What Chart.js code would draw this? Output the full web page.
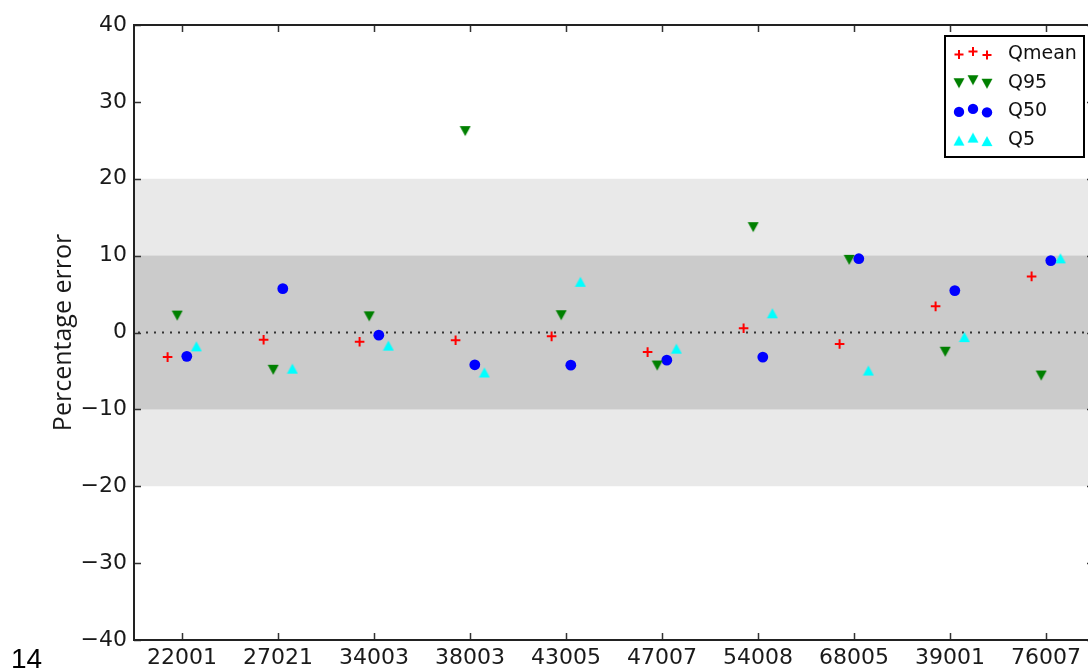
<!DOCTYPE html>
<html>
<head>
<meta charset="utf-8">
<script src="https://cdn.jsdelivr.net/npm/chart.js@4"></script>
<style>
html,body{margin:0;padding:0;overflow:hidden;background:#fff;}
#wrap{position:relative;width:1101px;height:671px;}
</style>
</head>
<body>
<div id="wrap"><canvas id="c" width="1101" height="671"></canvas></div>
<script>
// ---- data ----
const categories = ['22001','27021','34003','38003','43005','47007','54008','68005','39001','76007'];
const qmean = [-3.2, -0.95, -1.2, -1.0, -0.5, -2.55, 0.55, -1.5, 3.4, 7.3];
const q95   = [2.2, -4.85, 2.1, 26.2, 2.25, -4.3, 13.7, 9.45, -2.5, -5.6];
const q50   = [-3.1, 5.7, -0.35, -4.2, -4.25, -3.6, -3.2, 9.6, 5.45, 9.35];
const q5    = [-1.8, -4.7, -1.7, -5.2, 6.6, -2.1, 2.5, -4.95, -0.6, 9.65];
const yTicks = [-40, -30, -20, -10, 0, 10, 20, 30, 40];
const seriesNames = ['Qmean', 'Q95', 'Q50', 'Q5'];
const offsets = [-0.15, -0.05, 0.05, 0.15];

// ---- marker images (matplotlib-like, bbox centred) ----
function triImg(color, down) {
  const c = document.createElement('canvas');
  c.width = 12; c.height = 12;
  const g = c.getContext('2d');
  g.fillStyle = color;
  g.beginPath();
  if (down) { g.moveTo(0.5, 1); g.lineTo(11.5, 1); g.lineTo(6, 11); }
  else { g.moveTo(6, 1); g.lineTo(11.5, 11); g.lineTo(0.5, 11); }
  g.closePath(); g.fill();
  return c;
}
const triDown = triImg('#008000', true);
const triUp = triImg('#00ffff', false);

function pts(arr, k) { return arr.map((v, i) => ({x: i + offsets[k], y: v})); }

const bandsPlugin = {
  id: 'bands',
  beforeDatasetsDraw(chart) {
    const {ctx, chartArea: a, scales: {y}} = chart;
    ctx.save();
    ctx.fillStyle = '#e9e9e9';
    ctx.fillRect(a.left, y.getPixelForValue(20), a.right - a.left, y.getPixelForValue(-20) - y.getPixelForValue(20));
    ctx.fillStyle = '#cbcbcb';
    ctx.fillRect(a.left, y.getPixelForValue(10), a.right - a.left, y.getPixelForValue(-10) - y.getPixelForValue(10));
    const y0 = y.getPixelForValue(0);
    ctx.strokeStyle = '#333';
    ctx.lineWidth = 2;
    ctx.setLineDash([2, 6]);
    ctx.beginPath(); ctx.moveTo(a.left + 4, y0); ctx.lineTo(a.right, y0); ctx.stroke();
    ctx.restore();
  },
  afterDatasetsDraw(chart) {
    const {ctx, chartArea: a, scales: {x, y}} = chart;
    ctx.save();
    // ticks (inward)
    ctx.strokeStyle = '#333';
    ctx.lineWidth = 1.5;
    ctx.beginPath();
    yTicks.forEach(v => {
      const py = Math.round(y.getPixelForValue(v)) + 0.5;
      ctx.moveTo(a.left, py); ctx.lineTo(a.left + 7, py);
      ctx.moveTo(a.right, py); ctx.lineTo(a.right - 7, py);
    });
    categories.forEach((c, i) => {
      const px = Math.round(x.getPixelForValue(i)) + 0.5;
      ctx.moveTo(px, a.bottom); ctx.lineTo(px, a.bottom - 7);
      ctx.moveTo(px, a.top); ctx.lineTo(px, a.top + 7);
    });
    ctx.stroke();
    // frame
    ctx.strokeStyle = '#222';
    ctx.lineWidth = 2;
    ctx.strokeRect(a.left, a.top, a.right - a.left, a.bottom - a.top);
    // legend
    const L = a.right - 149, T = a.top + 11, W = 139, H = 121;
    ctx.fillStyle = '#fff';
    ctx.fillRect(L, T, W, H);
    ctx.strokeStyle = '#000';
    ctx.lineWidth = 2;
    ctx.strokeRect(L, T, W, H);
    const dy = [1.5, -1.5, 2];
    const mx = [14, 28, 42];
    seriesNames.forEach((name, k) => {
      const ry = T + 17 + k * 28.7;
      for (let j = 0; j < 3; j++) {
        const cx = L + mx[j], cy = ry + dy[j];
        if (k === 0) {
          ctx.strokeStyle = '#ff0000'; ctx.lineWidth = 2;
          ctx.beginPath(); ctx.moveTo(cx - 4.5, cy); ctx.lineTo(cx + 4.5, cy);
          ctx.moveTo(cx, cy - 4.5); ctx.lineTo(cx, cy + 4.5); ctx.stroke();
        } else if (k === 1) {
          ctx.drawImage(triDown, cx - 6, cy - 6);
        } else if (k === 2) {
          ctx.fillStyle = '#0000ff';
          ctx.beginPath(); ctx.arc(cx, cy, 5.2, 0, Math.PI * 2); ctx.fill();
        } else {
          ctx.drawImage(triUp, cx - 6, cy - 6);
        }
      }
      ctx.fillStyle = '#111';
      ctx.font = '19px "DejaVu Sans"';
      ctx.textBaseline = 'middle';
      ctx.textAlign = 'left';
      ctx.fillText(name, L + 63, ry + 1);
    });
    ctx.restore();
  },
  afterDraw(chart) {
    const ctx = chart.ctx;
    ctx.save();
    ctx.fillStyle = '#000';
    ctx.font = '28px "Liberation Sans"';
    ctx.textBaseline = 'alphabetic';
    ctx.textAlign = 'left';
    ctx.fillText('14', 11, 668);
    ctx.restore();
  }
};

new Chart(document.getElementById('c'), {
  type: 'scatter',
  data: {
    datasets: [
      {label: seriesNames[0], data: pts(qmean, 0), pointStyle: 'cross', pointRadius: 4.8, borderWidth: 2, borderColor: '#ff0000', backgroundColor: '#ff0000'},
      {label: seriesNames[1], data: pts(q95, 1), pointStyle: triDown, pointRadius: 6, borderColor: '#008000', backgroundColor: '#008000'},
      {label: seriesNames[2], data: pts(q50, 2), pointStyle: 'circle', pointRadius: 5.4, borderWidth: 0, borderColor: '#0000ff', backgroundColor: '#0000ff'},
      {label: seriesNames[3], data: pts(q5, 3), pointStyle: triUp, pointRadius: 6, borderColor: '#00ffff', backgroundColor: '#00ffff'}
    ]
  },
  options: {
    responsive: false,
    animation: false,
    events: [],
    layout: {padding: {top: 25, right: 2, left: 0, bottom: 0}},
    plugins: {legend: {display: false}, tooltip: {enabled: false}},
    scales: {
      x: {
        type: 'linear', min: -0.5, max: 9.5,
        grid: {display: false, drawTicks: false},
        border: {display: false},
        afterBuildTicks: s => { s.ticks = categories.map((c, i) => ({value: i})); },
        afterFit: s => { s.height = 31; },
        ticks: {
          autoSkip: false, maxRotation: 0, padding: 5,
          color: '#1a1a1a', font: {family: 'DejaVu Sans', size: 22},
          callback: v => categories[v]
        }
      },
      y: {
        min: -40, max: 40,
        grid: {display: false, drawTicks: false},
        border: {display: false},
        afterBuildTicks: s => { s.ticks = yTicks.map(v => ({value: v})); },
        afterFit: s => { s.width = 134; },
        ticks: {
          padding: 7, color: '#1a1a1a', font: {family: 'DejaVu Sans', size: 22},
          callback: v => v < 0 ? '\u2212' + Math.abs(v) : String(v)
        },
        title: {
          display: true, text: 'Percentage error', color: '#1a1a1a',
          font: {family: 'Open Sans', size: 25}, padding: {top: 49, bottom: 0}
        }
      }
    }
  },
  plugins: [bandsPlugin]
});
</script>
</body>
</html>
